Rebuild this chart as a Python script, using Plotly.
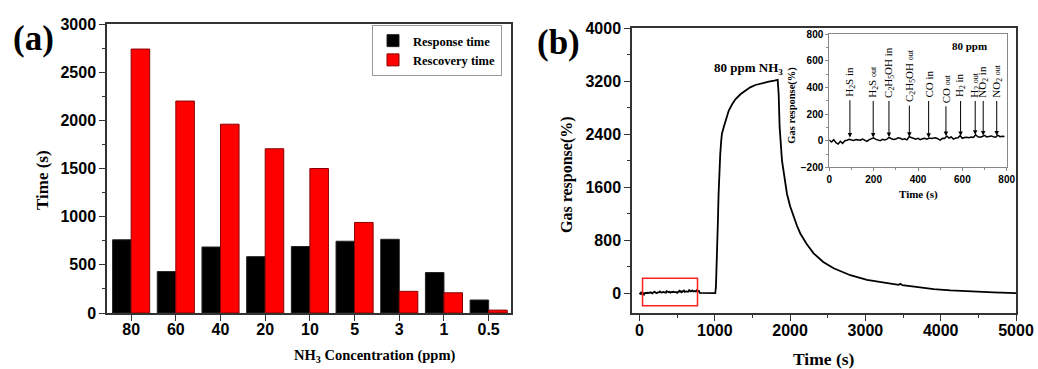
import plotly.graph_objects as go

# ---------------- data ----------------
concentrations = ["80", "60", "40", "20", "10", "5", "3", "1", "0.5"]
response_time = [760, 430, 685, 585, 690, 745, 765, 420, 135]
recovery_time = [2740, 2200, 1960, 1705, 1500, 940, 225, 210, 30]

# inset: cross-gas test, 0-790 s
inset_t = [0, 10, 20, 30, 40, 50, 60, 70, 80, 90, 100, 110, 120, 130, 140, 150, 160, 170, 180, 190,
           200, 210, 220, 230, 240, 250, 260, 270, 280, 290, 300, 310, 320, 330, 340, 350, 360, 370, 380, 390,
           400, 410, 420, 430, 440, 450, 460, 470, 480, 490, 500, 510, 520, 530, 540, 550, 560, 570, 580, 590,
           600, 610, 620, 630, 640, 650, 660, 670, 680, 690, 700, 710, 720, 730, 740, 750, 760, 770, 780, 790]
inset_r = [5, -10, 8, -15, -25, -5, -20, 0, 3, 10, 5, 2, 8, 6, 4, 12, 2, -5, 8, 15,
           22, 10, 5, 0, 10, 6, 12, 25, 15, 10, 12, 22, 18, 10, 14, 6, 30, 22, 16, 12,
           18, 8, 14, 18, 12, 20, 16, 18, 22, 14, 5, 18, 16, 35, 20, 28, 12, 20, 22, 38,
           18, 24, 26, 22, 28, 24, 45, 30, 26, 32, 40, 28, 30, 36, 30, 26, 42, 30, 34, 32]

# main transient after the cross-gas section (80 ppm NH3)
nh3_t = [800, 850, 900, 950, 1006, 1015, 1028, 1040, 1050, 1060, 1072, 1085, 1095, 1120, 1140, 1184,
         1230, 1273, 1340, 1406, 1470, 1539, 1620, 1716, 1790, 1835, 1848, 1861, 1892, 1925, 1958,
         2000, 2047, 2090, 2135, 2220, 2312, 2440, 2578, 2800, 3021, 3240, 3440, 3464, 3490, 3700,
         3907, 4130, 4350, 4700, 5000]
nh3_r = [2, 0, 0, 0, 0, 100, 500, 1050, 1500, 1820, 2100, 2300, 2410, 2510, 2575, 2750,
         2850, 2925, 3000, 3060, 3105, 3140, 3168, 3190, 3205, 3218, 3000, 2500, 2000, 1720, 1500,
         1310, 1150, 1020, 900, 740, 600, 470, 375, 270, 200, 155, 125, 140, 120, 90,
         60, 40, 25, 12, 0]

event_labels = ["H<sub>2</sub>S in", "H<sub>2</sub>S <span style='font-size:8px'>out</span>",
                "C<sub>2</sub>H<sub>5</sub>OH in", "C<sub>2</sub>H<sub>5</sub>OH <span style='font-size:8px'>out</span>",
                "CO in", "CO <span style='font-size:8px'>out</span>",
                "H<sub>2</sub> in", "H<sub>2</sub> <span style='font-size:8px'>out</span>",
                "NO<sub>2</sub> in", "NO<sub>2</sub> <span style='font-size:8px'>out</span>"]
event_t = [93, 198, 269, 361, 448, 526, 592, 658, 694, 755]
event_tip = [25, 25, 28, 30, 22, 35, 35, 45, 40, 40]
event_tail = [315, 310, 310, 275, 310, 270, 310, 310, 310, 310]

box_t = [40, 770]
box_r = [-190, 225]

main_t = inset_t + nh3_t
main_r = inset_r + nh3_r

W, H = 1038, 369
SERIF = "Liberation Serif"
SANS = "Liberation Sans"


def px(x):
    return x / W


def py(y):
    return 1 - y / H


fig = go.Figure()

fig.add_trace(go.Bar(x=concentrations, y=response_time, name="Response time",
                     marker=dict(color="#000000", line=dict(color="#222222", width=1)),
                     xaxis="x", yaxis="y"))
fig.add_trace(go.Bar(x=concentrations, y=recovery_time, name="Rescovery time",
                     marker=dict(color="#ff0000", line=dict(color="#8a0000", width=1)),
                     xaxis="x", yaxis="y"))

fig.add_trace(go.Scatter(x=main_t, y=main_r, mode="lines", line=dict(color="#000000", width=1.8),
                         showlegend=False, xaxis="x2", yaxis="y2"))
fig.add_trace(go.Scatter(x=inset_t, y=inset_r, mode="lines", line=dict(color="#000000", width=1.5),
                         showlegend=False, xaxis="x3", yaxis="y3"))

axis_line = "#333333"
tickf = dict(family=SANS, size=16, color="#000000", weight="bold")
tickf_small = dict(family=SANS, size=10, color="#000000", weight="bold")

common = dict(showline=True, linecolor=axis_line, linewidth=1.5, mirror=True, showgrid=False,
              zeroline=False, ticks="outside", ticklen=6, tickwidth=1.2, tickcolor=axis_line,
              tickfont=tickf, automargin=False)

inset_common = dict(showline=True, linecolor="#888888", linewidth=1, mirror=True, showgrid=False,
                    zeroline=False, ticks="outside", ticklen=3, tickcolor="#888888",
                    minor=dict(dtick=100, ticks="outside", ticklen=2, tickcolor="#888888"),
                    tickfont=tickf_small, automargin=False)

fig.update_layout(
    width=W, height=H, margin=dict(l=0, r=0, t=0, b=0, pad=0, autoexpand=False),
    paper_bgcolor="white", plot_bgcolor="white",
    barmode="group", bargap=0.17, bargroupgap=0,
    xaxis=dict(domain=[px(107), px(511)], anchor="y", type="category",
               range=[-0.54, 8.5], ticklabelstandoff=-5, **common),
    yaxis=dict(domain=[py(313), py(24)], anchor="x", range=[0, 3000], dtick=500,
               minor=dict(dtick=250, ticks="outside", ticklen=3.5, tickcolor=axis_line),
               **common),
    xaxis2=dict(domain=[px(632), px(1016)], anchor="y2", range=[-100, 5000], dtick=1000,
                ticklabelstandoff=-4,
                minor=dict(dtick=500, ticks="outside", ticklen=3.5, tickcolor=axis_line),
                **common),
    yaxis2=dict(domain=[py(313), py(28)], anchor="x2", range=[-300, 4000], tick0=0, dtick=800,
                minor=dict(dtick=400, ticks="outside", ticklen=3.5, tickcolor=axis_line),
                **common),
    xaxis3=dict(domain=[px(829.3), px(1006.7)], anchor="y3", range=[0, 800], dtick=200,
                **inset_common),
    yaxis3=dict(domain=[py(167.3), py(34.3)], anchor="x3", range=[-200, 800], dtick=200,
                **inset_common),
    legend=dict(x=px(502), y=py(25), xanchor="right", yanchor="top",
                font=dict(family=SERIF, size=12.5, color="#000000", weight="bold"),
                bgcolor="white", bordercolor="#999999", borderwidth=1,
                tracegroupgap=0, itemwidth=30),
    showlegend=True,
)

fig.add_shape(type="rect", xref="x2", yref="y2", x0=box_t[0], x1=box_t[1], y0=box_r[0], y1=box_r[1],
              line=dict(color="#ff2020", width=1.5))

ann = []


def txt(x, y, text, size, angle=0, family=SERIF, xref="paper", yref="paper"):
    ann.append(dict(x=x, y=y, xref=xref, yref=yref, xanchor="center", yanchor="middle",
                    text=text, showarrow=False, textangle=angle,
                    font=dict(family=family, size=size, color="#000000")))


txt(px(33), py(38), "<b>(a)</b>", 35)
txt(px(558), py(43), "<b>(b)</b>", 35)
txt(px(42), py(180), "<b>Time (s)</b>", 17, angle=-90)
txt(px(375), py(356), "<b>NH<sub>3</sub> Concentration (ppm)</b>", 14.5)
txt(px(567), py(175), "<b>Gas response(%)</b>", 16, angle=-90)
txt(px(824), py(359), "<b>Time (s)</b>", 17.5)
txt(1444, 3395, "<b>80 ppm NH<sub>3</sub></b>", 13, xref="x2", yref="y2")
txt(px(918), py(194), "<b>Time (s)</b>", 11)
txt(px(791.7), py(105), "<b>Gas response(%)</b>", 10.5, angle=-90)
txt(634, 712, "<b>80 ppm</b>", 11, xref="x3", yref="y3")

for t, tip, tail, lab in zip(event_t, event_tip, event_tail, event_labels):
    ann.append(dict(x=t, y=tip, xref="x3", yref="y3", ax=t, ay=tail, axref="x3", ayref="y3",
                    text="", showarrow=True, arrowhead=2, arrowsize=0.9, arrowwidth=1,
                    arrowcolor="#000000"))
    ann.append(dict(x=t, y=tail, xref="x3", yref="y3", text=lab, showarrow=False, textangle=-90,
                    xanchor="center", yanchor="bottom",
                    font=dict(family=SERIF, size=11, color="#000000")))

fig.update_layout(annotations=ann)

fig.write_html("out.html")
